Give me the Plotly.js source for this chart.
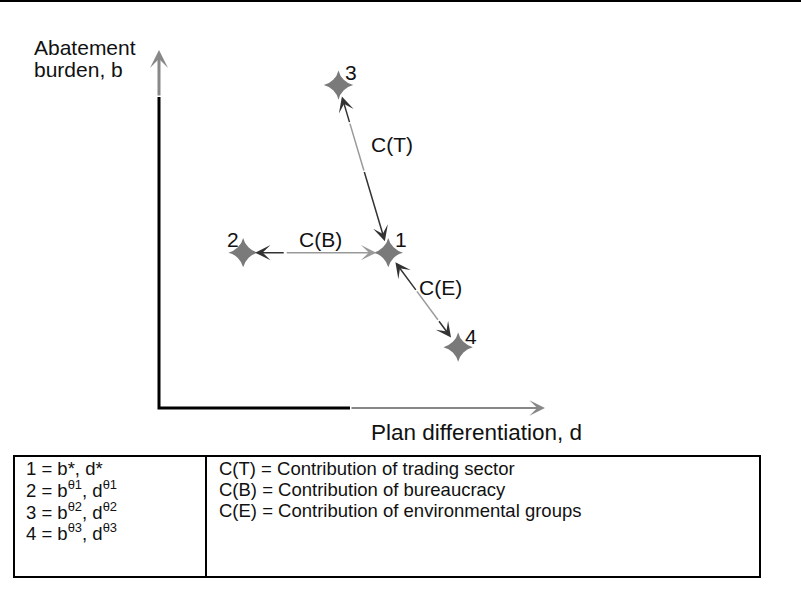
<!DOCTYPE html>
<html>
<head>
<meta charset="utf-8">
<script src="https://cdn.plot.ly/plotly-3.0.1.min.js"></script>
<style>
html,body{margin:0;padding:0;background:#ffffff;}
#chart{width:801px;height:601px;}
</style>
</head>
<body>
<div id="chart"></div>
<script>
// ---------------- data ----------------
const pointLabels = ['1', '2', '3', '4'];
const pointD = [5.94, 2.18, 4.65, 7.75];   // plan differentiation
const pointB = [4.34, 4.34, 9.02, 1.70];   // abatement burden

const arrowLabels = ['C(T)', 'C(B)', 'C(E)'];
const arrowFrom = [2, 1, 0];   // index of start point
const arrowTo   = [0, 0, 3];   // index of end point

const axisTitleY = ['Abatement', 'burden, b'];
const axisTitleX = 'Plan differentiation, d';
const axisMax = 10;

const keyPoints = [
  '1 = b*, d*',
  '2 = b<sup>θ1</sup>, d<sup>θ1</sup>',
  '3 = b<sup>θ2</sup>, d<sup>θ2</sup>',
  '4 = b<sup>θ3</sup>, d<sup>θ3</sup>'
];
const keyContributions = [
  'C(T) = Contribution of trading sector',
  'C(B) = Contribution of bureaucracy',
  'C(E) = Contribution of environmental groups'
];

// ---------------- layout helpers ----------------
const W = 801, H = 601;
const ORIGIN = [159, 408];      // pixel position of (0,0)
const PX_D = 38.6, PX_B = 35.8; // pixels per unit
const xRange = [-ORIGIN[0] / PX_D, (W - ORIGIN[0]) / PX_D];
const yRange = [(ORIGIN[1] - H) / PX_B, ORIGIN[1] / PX_B];
const px = v => v / W;
const py = v => 1 - v / H;

const FONT = 'Arial, "Liberation Sans", Helvetica, sans-serif';
const FS = 21;
const FS_KEY = 18.5;
const TXT = '#111111';
const DARK = '#333333';
const GRAY = '#9a9a9a';
const AXGRAY = '#888888';

// segments of each double arrow: [fStart, fEnd, color, head at fEnd]
const arrowSegs = [
  [[0.23, 0, DARK, true], [0.23, 0.51, GRAY, false], [0.51, 1, DARK, true]],
  [[0.29, 0, DARK, true], [0.29, 1, GRAY, true]],
  [[0.41, 0, DARK, true], [0.41, 0.71, GRAY, false], [0.71, 1, DARK, true]]
];
const labelShift = [[29, 24], [5, 13], [17, 12]];
const pointShift = [[13, 13], [-10, 13], [13, 13], [13, 11]];

const shapes = [];
const annotations = [];

// top rule
shapes.push({type: 'line', xref: 'paper', yref: 'paper', x0: 0, x1: 1, y0: py(1), y1: py(1),
  line: {color: '#000', width: 2}});

// axes: black part
const yBlack = (ORIGIN[1] - 97) / PX_B;
const xBlack = (350 - ORIGIN[0]) / PX_D;
shapes.push({type: 'path', xref: 'x', yref: 'y',
  path: `M0,${yBlack} L0,0 L${xBlack},0`, line: {color: '#000', width: 3}});
// axes: gray arrow part
annotations.push({x: 0, y: axisMax, ax: 0, ay: yBlack, xref: 'x', yref: 'y', axref: 'x', ayref: 'y',
  text: '', showarrow: true, arrowhead: 3, arrowsize: 1.0, arrowwidth: 3, arrowcolor: AXGRAY});
annotations.push({x: axisMax, y: 0, ax: xBlack, ay: 0, xref: 'x', yref: 'y', axref: 'x', ayref: 'y',
  text: '', showarrow: true, arrowhead: 3, arrowsize: 1.3, arrowwidth: 2, arrowcolor: AXGRAY});

// contribution arrows
arrowLabels.forEach((lab, i) => {
  const a = arrowFrom[i], b = arrowTo[i];
  const P = f => [pointD[a] + (pointD[b] - pointD[a]) * f, pointB[a] + (pointB[b] - pointB[a]) * f];
  arrowSegs[i].forEach(s => {
    const t = P(s[0]), h = P(s[1]);
    if (s[3]) {
      annotations.push({x: h[0], y: h[1], ax: t[0], ay: t[1], xref: 'x', yref: 'y', axref: 'x', ayref: 'y',
        text: '', showarrow: true, arrowhead: 3, arrowsize: 1.7, arrowwidth: 1.5,
        arrowcolor: s[2], standoff: 12});
    } else {
      shapes.push({type: 'line', xref: 'x', yref: 'y', x0: t[0], y0: t[1], x1: h[0], y1: h[1],
        line: {color: s[2], width: 1.5}});
    }
  });
  const m = P(0.5);
  annotations.push({x: m[0], y: m[1], xref: 'x', yref: 'y', text: lab, showarrow: false,
    xshift: labelShift[i][0], yshift: labelShift[i][1], font: {family: FONT, size: FS, color: TXT}});
});

// point labels
pointLabels.forEach((lab, i) => {
  annotations.push({x: pointD[i], y: pointB[i], xref: 'x', yref: 'y', text: lab, showarrow: false,
    xshift: pointShift[i][0], yshift: pointShift[i][1], font: {family: FONT, size: FS, color: TXT}});
});

// axis titles
axisTitleY.forEach((t, i) => {
  annotations.push({x: px(32), y: py(47 + i * 22), xref: 'paper', yref: 'paper', xanchor: 'left', yanchor: 'middle',
    text: t, showarrow: false, font: {family: FONT, size: FS, color: TXT}});
});
annotations.push({x: px(369), y: py(432), xref: 'paper', yref: 'paper', xanchor: 'left', yanchor: 'middle',
  text: axisTitleX, showarrow: false, font: {family: FONT, size: 22.5, color: TXT}});

// key table
shapes.push({type: 'rect', xref: 'paper', yref: 'paper', x0: px(14), x1: px(760), y0: py(577), y1: py(456),
  line: {color: '#000', width: 2}});
shapes.push({type: 'line', xref: 'paper', yref: 'paper', x0: px(206), x1: px(206), y0: py(577), y1: py(456),
  line: {color: '#000', width: 2}});
keyPoints.forEach((t, i) => {
  annotations.push({x: px(24), y: py(468 + i * 21.3), xref: 'paper', yref: 'paper', xanchor: 'left', yanchor: 'middle',
    text: t, showarrow: false, font: {family: FONT, size: FS_KEY, color: TXT}});
});
keyContributions.forEach((t, i) => {
  annotations.push({x: px(217), y: py(468 + i * 21.3), xref: 'paper', yref: 'paper', xanchor: 'left', yanchor: 'middle',
    text: t, showarrow: false, font: {family: FONT, size: FS_KEY, color: TXT}});
});

const traces = [{
  type: 'scatter', mode: 'markers', x: pointD, y: pointB, text: pointLabels, hoverinfo: 'text',
  marker: {symbol: 'star-diamond', size: 21, color: '#7a7a7a', line: {width: 0}}
}];

const layout = {
  width: W, height: H, margin: {l: 0, r: 0, t: 0, b: 0},
  paper_bgcolor: '#ffffff', plot_bgcolor: '#ffffff', showlegend: false,
  xaxis: {range: xRange, visible: false, fixedrange: true},
  yaxis: {range: yRange, visible: false, fixedrange: true},
  shapes: shapes, annotations: annotations,
  font: {family: FONT, size: FS, color: TXT}
};

Plotly.newPlot('chart', traces, layout, {displayModeBar: false, staticPlot: true});
</script>
</body>
</html>
